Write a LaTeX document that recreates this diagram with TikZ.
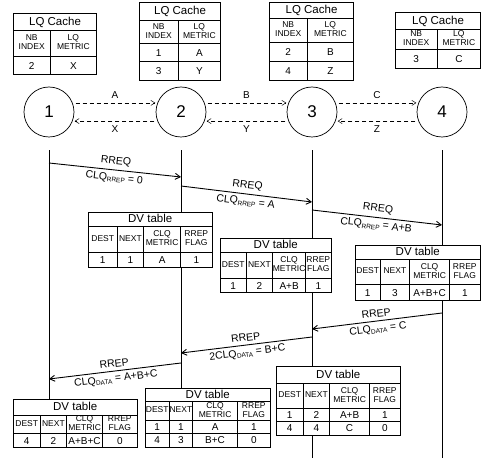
\documentclass[tikz,border=0pt]{standalone}
\usepackage{fontspec}
\setmainfont{Liberation Sans}
\usepackage{array}
\usetikzlibrary{arrows.meta,backgrounds}

% fixed-width centred table columns
\newcolumntype{W}[1]{>{\hbox to #1\bgroup\hss}c<{\hss\egroup}}
\setlength{\tabcolsep}{0pt}
\setlength{\arrayrulewidth}{0.7pt}
\renewcommand{\arraystretch}{0}

\newcommand{\ttl}{\fontsize{11.5}{12}\selectfont}
\newcommand{\hdf}{\fontsize{8.5}{9}\selectfont}
\newcommand{\dtf}{\fontsize{10}{11}\selectfont}
% row struts: text rows and two-line header rows
\newcommand{\rtxt}[1]{\rule[\dimexpr(7pt-#1pt)/2\relax]{0pt}{#1pt}}
\newcommand{\rhead}[1]{\rule[\dimexpr2pt-#1pt/2\relax]{0pt}{#1pt}}
\newcommand{\two}[2]{{\hdf\renewcommand{\arraystretch}{1}\begin{tabular}{@{}c@{}}#1\\#2\end{tabular}}}
\newcommand{\idx}[1]{\raisebox{-1.5pt}{\fontsize{6.5}{7}\selectfont #1}}
\newcommand{\dvhead}[1]{\rhead{#1}{\hdf DEST} & {\hdf NEXT} & \two{CLQ}{METRIC} & \two{RREP}{FLAG}\\\hline}
\newcommand{\lqhead}[1]{\rhead{#1}\two{NB}{INDEX} & \two{LQ}{METRIC}\\\hline}

\begin{document}
\begin{tikzpicture}[x=1pt, y=-1pt,
    stn/.style={circle, draw, line width=0.7pt, minimum size=50pt, inner sep=0pt,
                font=\fontsize{17}{19}\selectfont},
    tab/.style={inner sep=0pt, outer sep=0pt, fill=white, anchor=north west, font=\dtf},
    link/.style={-{Straight Barb[length=4pt,width=5pt]}, dash pattern=on 4pt off 3pt,
                 line width=0.5pt, shorten <=3pt, shorten >=2pt},
    msg/.style={-{Straight Barb[length=5pt,width=6pt]}, line width=0.9pt},
    lbl/.style={font=\fontsize{10.5}{12}\selectfont, sloped, inner sep=1pt},
    life/.style={line width=0.6pt, shorten <=13pt}
  ]
  \useasboundingbox (0,0) rectangle (482,465);

  % Stations
  \node[stn] (c1) at (49,112) {1};
  \node[stn] (c2) at (181,112) {2};
  \node[stn] (c3) at (312,112) {3};
  \node[stn] (c4) at (442,112) {4};

  % Link quality between neighbours
  \draw[link] (c1.21) -- node[above=1pt, font=\dtf] {A} (c2.159);
  \draw[link] (c2.-159) -- node[below=1pt, font=\dtf] {X} (c1.-21);
  \draw[link] (c2.21) -- node[above=1pt, font=\dtf] {B} (c3.159);
  \draw[link] (c3.-159) -- node[below=1pt, font=\dtf] {Y} (c2.-21);
  \draw[link] (c3.21) -- node[above=1pt, font=\dtf] {C} (c4.159);
  \draw[link] (c4.-159) -- node[below=1pt, font=\dtf] {Z} (c3.-21);

  % LQ caches
  \node[tab] (lq1) at (13,13) {\begin{tabular}{|W{36pt}|W{46pt}|}\hline
    \multicolumn{2}{|c|}{\rtxt{16}\ttl LQ Cache}\\\hline
    \lqhead{26}
    \rtxt{17}2 & X\\\hline
  \end{tabular}};
  \node[tab] (lq2) at (139,2) {\begin{tabular}{|W{38pt}|W{42pt}|}\hline
    \multicolumn{2}{|c|}{\rtxt{17}\ttl LQ Cache}\\\hline
    \lqhead{23}
    \rtxt{17}1 & A\\\hline
    \rtxt{18}3 & Y\\\hline
  \end{tabular}};
  \node[tab] (lq3) at (269,2) {\begin{tabular}{|W{37pt}|W{46pt}|}\hline
    \multicolumn{2}{|c|}{\rtxt{15}\ttl LQ Cache}\\\hline
    \lqhead{24}
    \rtxt{18}2 & B\\\hline
    \rtxt{18}4 & Z\\\hline
  \end{tabular}};
  \node[tab] (lq4) at (395,12) {\begin{tabular}{|W{41pt}|W{43pt}|}\hline
    \multicolumn{2}{|c|}{\rtxt{16}\ttl LQ Cache}\\\hline
    \lqhead{20}
    \rtxt{18}3 & C\\\hline
  \end{tabular}};

  % DV tables
  \node[tab] (dv1) at (88,212) {\begin{tabular}{|W{28pt}|W{26pt}|W{36pt}|W{31pt}|}\hline
    \multicolumn{4}{|c|}{\rtxt{13}\ttl DV table}\\\hline
    \dvhead{26}
    \rtxt{14}1 & 1 & A & 1\\\hline
  \end{tabular}};
  \node[tab] (dv2) at (220,238) {\begin{tabular}{|W{25pt}|W{26pt}|W{32pt}|W{25pt}|}\hline
    \multicolumn{4}{|c|}{\rtxt{13}\ttl DV table}\\\hline
    \dvhead{26}
    \rtxt{13}1 & 2 & A+B & 1\\\hline
  \end{tabular}};
  \node[tab] (dv3) at (355,245) {\begin{tabular}{|W{24pt}|W{29pt}|W{39pt}|W{30pt}|}\hline
    \multicolumn{4}{|c|}{\rtxt{13}\ttl DV table}\\\hline
    \dvhead{25}
    \rtxt{15}1 & 3 & A+B+C & 1\\\hline
  \end{tabular}};
  \node[tab] (dv4) at (276,366) {\begin{tabular}{|W{26pt}|W{26pt}|W{39pt}|W{30pt}|}\hline
    \multicolumn{4}{|c|}{\rtxt{16}\ttl DV table}\\\hline
    \dvhead{25}
    \rtxt{12}1 & 2 & A+B & 1\\\hline
    \rtxt{13}4 & 4 & C & 0\\\hline
  \end{tabular}};
  \node[tab] (dv5) at (13,399) {\begin{tabular}{|W{26pt}|W{26pt}|W{35pt}|W{34pt}|}\hline
    \multicolumn{4}{|c|}{\rtxt{15}\ttl DV table}\\\hline
    \dvhead{18}
    \rtxt{13}4 & 2 & A+B+C & 0\\\hline
  \end{tabular}};
  \node[tab] (dv6) at (145,388) {\begin{tabular}{|W{23pt}|W{23pt}|W{44pt}|W{32pt}|}\hline
    \multicolumn{4}{|c|}{\rtxt{12}\ttl DV table}\\\hline
    \dvhead{19}
    \rtxt{12}1 & 1 & A & 1\\\hline
    \rtxt{13}4 & 3 & B+C & 0\\\hline
  \end{tabular}};

  % Lifelines
  \coordinate (bot) at (0,458);
  \begin{scope}[on background layer]
    \draw[life] (c1.south) -- (c1 |- dv5.north);
    \draw[life] (c2.south) -- (c2 |- dv6.north);
    \draw[life] (c3.south) -- (c3 |- bot);
    \draw[life] (c4.south) -- (c4 |- bot);
  \end{scope}

  % Route request and reply
  \coordinate (q1a) at (49,163);  \coordinate (q1b) at (181,177);
  \coordinate (q2a) at (181,186); \coordinate (q2b) at (312,202);
  \coordinate (q3a) at (312,210); \coordinate (q3b) at (442,225);
  \coordinate (p1a) at (442,313); \coordinate (p1b) at (312,329);
  \coordinate (p2a) at (312,337); \coordinate (p2b) at (181,353);
  \coordinate (p3a) at (181,363); \coordinate (p3b) at (49,379);

  \draw[msg] (q1a) -- node[lbl, above=2.5pt] {RREQ}
                      node[lbl, below=2pt] {CLQ\idx{RREP} = 0} (q1b);
  \draw[msg] (q2a) -- node[lbl, above=2.5pt] {RREQ}
                      node[lbl, below=2pt] {CLQ\idx{RREP} = A} (q2b);
  \draw[msg] (q3a) -- node[lbl, above=2.5pt] {RREQ}
                      node[lbl, below=2pt] {CLQ\idx{RREP} = A+B} (q3b);
  \draw[msg] (p1a) -- node[lbl, above=2.5pt] {RREP}
                      node[lbl, below=2pt] {CLQ\idx{DATA} = C} (p1b);
  \draw[msg] (p2a) -- node[lbl, above=2.5pt] {RREP}
                      node[lbl, below=2pt] {2CLQ\idx{DATA} = B+C} (p2b);
  \draw[msg] (p3a) -- node[lbl, above=2.5pt] {RREP}
                      node[lbl, below=2pt] {CLQ\idx{DATA} = A+B+C} (p3b);
\end{tikzpicture}
\end{document}
